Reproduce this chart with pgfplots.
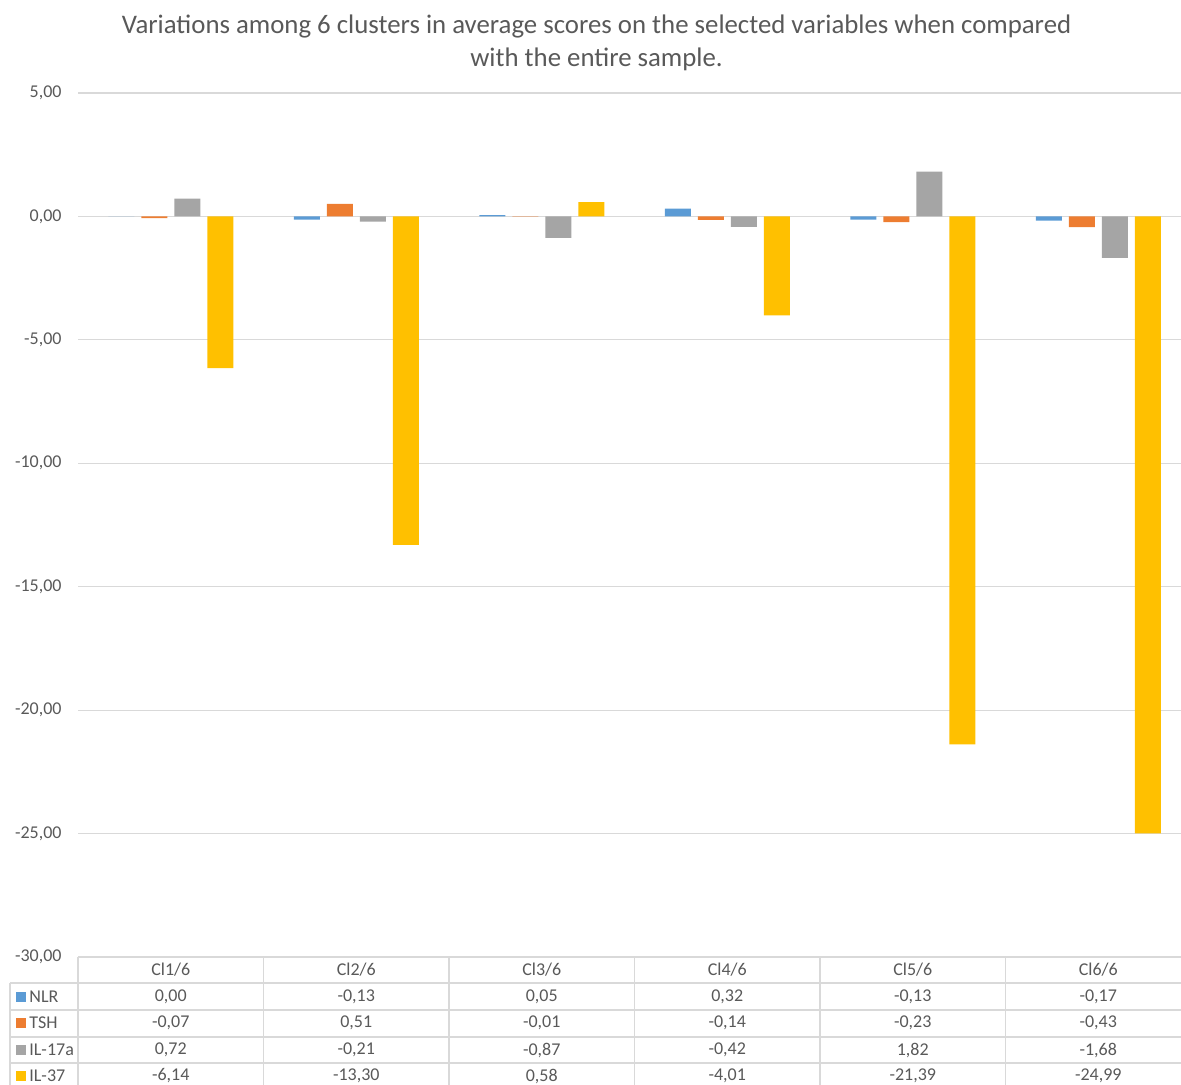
\documentclass[border=0pt]{standalone}
\usepackage{pgfplots}
\pgfplotsset{compat=1.18}
\usepackage{fontspec}
\setmainfont{Carlito}
\definecolor{cNLR}{HTML}{5B9BD5}
\definecolor{cTSH}{HTML}{ED7D31}
\definecolor{cIL17}{HTML}{A5A5A5}
\definecolor{cIL37}{HTML}{FFC000}
\definecolor{gridc}{HTML}{D9D9D9}
\definecolor{txt}{HTML}{595959}
\begin{document}
\begin{tikzpicture}[x=0.5pt,y=-0.5pt]
\begin{axis}[
  at={(39pt,-478.5pt)}, anchor=south west,
  scale only axis, width=556.5pt, height=432pt,
  xmin=0.5, xmax=6.5, ymin=-30, ymax=5,
  ybar, bar width=13pt, ybar=3.5pt,
  xtick=\empty, ytick={-30,-25,...,5},
  ymajorgrids, grid style={draw=gridc, line width=0.6pt},
  axis line style={draw=none}, major tick length=0pt,
  yticklabel style={font=\fontsize{9}{10}\selectfont, text=txt, inner sep=0pt, xshift=-8pt},
  /pgf/number format/fixed, /pgf/number format/fixed zerofill,
  /pgf/number format/precision=2, /pgf/number format/use comma,
  /pgf/number format/assume math mode=true,
  every axis plot/.append style={draw=none},
  clip=false,
]
\addplot[fill=cNLR]  coordinates {(1,0.00) (2,-0.13) (3,0.05) (4,0.32) (5,-0.13) (6,-0.17)};
\addplot[fill=cTSH]  coordinates {(1,-0.07) (2,0.51) (3,-0.01) (4,-0.14) (5,-0.23) (6,-0.43)};
\addplot[fill=cIL17] coordinates {(1,0.72) (2,-0.21) (3,-0.87) (4,-0.42) (5,1.82) (6,-1.68)};
\addplot[fill=cIL37] coordinates {(1,-6.14) (2,-13.30) (3,0.58) (4,-4.01) (5,-21.39) (6,-24.99)};
\end{axis}
% title
\node[text=txt, align=center, font=\fontsize{13.4}{16.5}\selectfont] at (596.5,43)
  {Variations among 6 clusters in average scores on the selected variables when compared\\with the entire sample.};
% data table under the plot
\begin{scope}[draw=gridc, line width=0.6pt]
  \foreach \yy in {983,1010,1037,1063} \draw[gridc] (10,\yy) -- (1200,\yy);
  \draw[gridc] (10,983) -- (10,1100);
  \foreach \i in {0,...,6} \draw[gridc] ({78+185.5*\i},957) -- ({78+185.5*\i},1100);
\end{scope}
\begin{scope}[font=\fontsize{9}{10}\selectfont, text=txt]
  \foreach \c [count=\i] in {Cl1/6,Cl2/6,Cl3/6,Cl4/6,Cl5/6,Cl6/6}
    \node at ({78+185.5*(\i-0.5)},970) {\c};
  \foreach \v [count=\i] in {{0,00},{-0,13},{0,05},{0,32},{-0,13},{-0,17}}
    \node at ({78+185.5*(\i-0.5)},996.5) {\v};
  \foreach \v [count=\i] in {{-0,07},{0,51},{-0,01},{-0,14},{-0,23},{-0,43}}
    \node at ({78+185.5*(\i-0.5)},1023) {\v};
  \foreach \v [count=\i] in {{0,72},{-0,21},{-0,87},{-0,42},{1,82},{-1,68}}
    \node at ({78+185.5*(\i-0.5)},1050) {\v};
  \foreach \v [count=\i] in {{-6,14},{-13,30},{0,58},{-4,01},{-21,39},{-24,99}}
    \node at ({78+185.5*(\i-0.5)},1076) {\v};
  \foreach \lab/\col/\yy in {NLR/cNLR/996.5,TSH/cTSH/1023,IL-17a/cIL17/1050,IL-37/cIL37/1076} {
    \fill[\col] (16,\yy-5) rectangle (26,\yy+5);
    \node[anchor=west, inner sep=0pt] at (29,\yy) {\lab};
  }
\end{scope}
\pgfresetboundingbox
\path (0,0) rectangle (1181,1084);
\end{tikzpicture}
\end{document}
